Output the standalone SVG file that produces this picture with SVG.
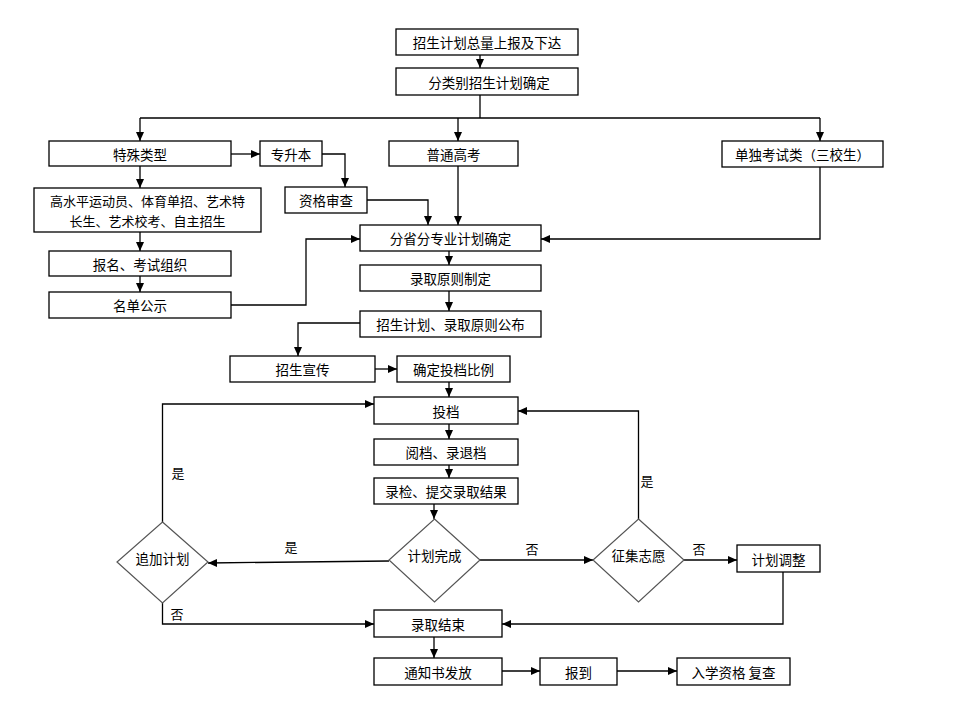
<svg xmlns="http://www.w3.org/2000/svg" width="960" height="720" viewBox="0 0 960 720">
<style>
.b{fill:#fff;stroke:#000;stroke-width:1.3}
.d{fill:#fff;stroke:#555;stroke-width:1.2}
.t{font-family:"SimSun","Noto Sans CJK SC","Noto Sans CJK TC",sans-serif;font-size:13.5px;fill:#000;text-anchor:middle;dominant-baseline:central}
.t2{font-size:13px}
.l{font-family:"SimSun","Noto Sans CJK SC",sans-serif;font-size:13px;fill:#000;text-anchor:middle;dominant-baseline:central}
.c{fill:none;stroke:#000;stroke-width:1.3}
</style>
<defs>
<marker id="ah" markerUnits="userSpaceOnUse" markerWidth="10" markerHeight="10" refX="9" refY="4" orient="auto">
<path d="M0,0 L9,4 L0,8 z" fill="#000"/>
</marker>
</defs>
<rect width="960" height="720" fill="#fff"/>
<g id="connectors" class="c" marker-end="url(#ah)">
<path d="M480,55 V68"/>
<path d="M480,95 V118" marker-end="none"/>
<path d="M140,118 H820" marker-end="none"/>
<path d="M140,118 V141"/>
<path d="M458,118 V141"/>
<path d="M820,118 V141"/>
<path d="M231,154 H260"/>
<path d="M322,154 H345 V187"/>
<path d="M140,166 V188"/>
<path d="M367,200 H428 V225"/>
<path d="M458,166 V225"/>
<path d="M820,167 V239 H541"/>
<path d="M140,232 V251"/>
<path d="M140,276 V292"/>
<path d="M231,305 H306 V239 H360"/>
<path d="M449,251 V265"/>
<path d="M449,291 V311"/>
<path d="M360,323 H298 V356"/>
<path d="M375,369 H397"/>
<path d="M449,382 V397"/>
<path d="M449,424 V439"/>
<path d="M449,465 V478"/>
<path d="M434,504 V519"/>
<path d="M389,561 L208,563"/>
<path d="M480,560 H593"/>
<path d="M684,560 H737"/>
<path d="M638.5,519 V411 H518"/>
<path d="M162.5,522 V404 H374"/>
<path d="M162.5,603 V624 H374"/>
<path d="M783,572 V624 H502"/>
<path d="M434,637 V658"/>
<path d="M502,671 H540"/>
<path d="M617,671 H677"/>
</g>
<g id="labels">
<text class="l" x="291" y="546">是</text>
<text class="l" x="532" y="548">否</text>
<text class="l" x="699" y="548">否</text>
<text class="l" x="647" y="480">是</text>
<text class="l" x="178" y="472">是</text>
<text class="l" x="177" y="613">否</text>
</g>
<g id="n1"><rect class="b" x="396" y="29" width="182" height="26"/><text class="t" x="487" y="42">招生计划总量上报及下达</text></g>
<g id="n2"><rect class="b" x="396" y="68" width="182" height="27"/><text class="t" x="489" y="81.5">分类别招生计划确定</text></g>
<g id="n3"><rect class="b" x="49" y="141" width="182" height="25"/><text class="t" x="140" y="153.5">特殊类型</text></g>
<g id="n4"><rect class="b" x="260" y="141" width="62" height="25"/><text class="t" x="291" y="153.5">专升本</text></g>
<g id="n5"><rect class="b" x="389" y="141" width="129" height="25"/><text class="t" x="453.5" y="153.5">普通高考</text></g>
<g id="n6"><rect class="b" x="722" y="141" width="161" height="26"/><text class="t" x="802.5" y="154">单独考试类（三校生）</text></g>
<g id="n7"><rect class="b" x="285" y="187" width="82" height="26"/><text class="t" x="326" y="200">资格审查</text></g>
<g id="n8"><rect class="b" x="34" y="188" width="227" height="44"/><text class="t t2" x="147.5" y="200">高水平运动员、体育单招、艺术特</text><text class="t t2" x="147.5" y="220">长生、艺术校考、自主招生</text></g>
<g id="n9"><rect class="b" x="360" y="225" width="181" height="26"/><text class="t" x="450.5" y="238">分省分专业计划确定</text></g>
<g id="n10"><rect class="b" x="49" y="251" width="182" height="25"/><text class="t" x="140" y="263.5">报名、考试组织</text></g>
<g id="n11"><rect class="b" x="49" y="292" width="182" height="26"/><text class="t" x="140" y="305">名单公示</text></g>
<g id="n12"><rect class="b" x="360" y="265" width="181" height="26"/><text class="t" x="450.5" y="278">录取原则制定</text></g>
<g id="n13"><rect class="b" x="360" y="311" width="181" height="26"/><text class="t" x="450.5" y="324">招生计划、录取原则公布</text></g>
<g id="n14"><rect class="b" x="230" y="356" width="145" height="26"/><text class="t" x="302.5" y="369">招生宣传</text></g>
<g id="n15"><rect class="b" x="397" y="356" width="113" height="26"/><text class="t" x="453.5" y="369">确定投档比例</text></g>
<g id="n16"><rect class="b" x="374" y="397" width="144" height="27"/><text class="t" x="446" y="410.5">投档</text></g>
<g id="n17"><rect class="b" x="374" y="439" width="144" height="26"/><text class="t" x="446" y="452">阅档、录退档</text></g>
<g id="n18"><rect class="b" x="374" y="478" width="144" height="26"/><text class="t" x="446" y="491">录检、提交录取结果</text></g>
<g id="n19"><polygon class="d" points="434.5,519 480,560 434.5,602 389,560"/><text class="t" x="434.5" y="555">计划完成</text></g>
<g id="n20"><polygon class="d" points="162.5,522 208,562 162.5,603 117,562"/><text class="t" x="162.5" y="558">追加计划</text></g>
<g id="n21"><polygon class="d" points="638.5,519 684,560 638.5,602 593,560"/><text class="t" x="638.5" y="555">征集志愿</text></g>
<g id="n22"><rect class="b" x="737" y="545" width="83" height="27"/><text class="t" x="778.5" y="558.5">计划调整</text></g>
<g id="n23"><rect class="b" x="374" y="610" width="128" height="27"/><text class="t" x="438" y="623.5">录取结束</text></g>
<g id="n24"><rect class="b" x="374" y="658" width="128" height="27"/><text class="t" x="438" y="671.5">通知书发放</text></g>
<g id="n25"><rect class="b" x="540" y="658" width="77" height="27"/><text class="t" x="578.5" y="671.5">报到</text></g>
<g id="n26"><rect class="b" x="677" y="658" width="113" height="27"/><text class="t" x="733.5" y="671.5">入学资格 复查</text></g>
</svg>
